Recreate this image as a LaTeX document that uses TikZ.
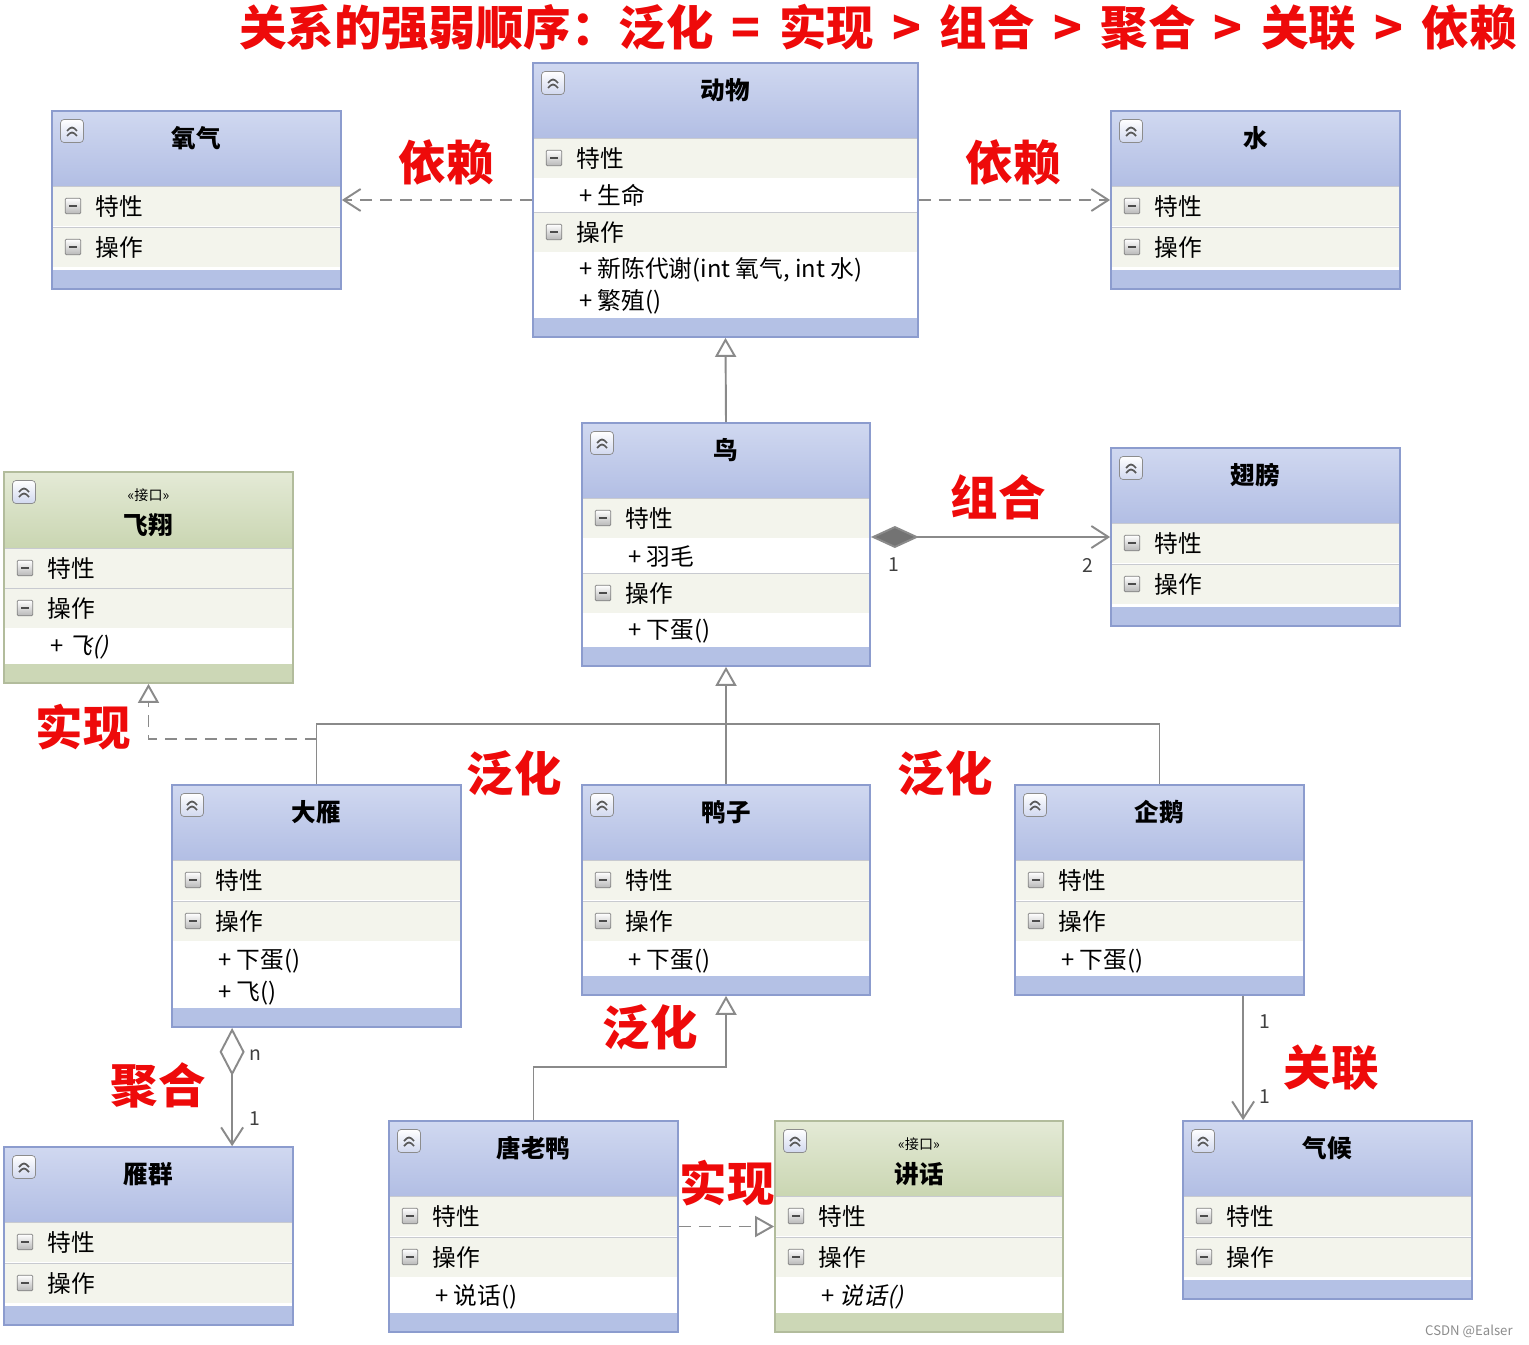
\documentclass[tikz,border=0pt]{standalone}
\usepackage{fontspec}
\setmainfont{Noto Sans CJK SC}
\newfontfamily\slantcjk{Noto Sans CJK SC}[FakeSlant=0.22]
\usetikzlibrary{arrows.meta,calc,fit,positioning}

\definecolor{btop}{RGB}{208,216,240}
\definecolor{bbot}{RGB}{178,190,228}
\definecolor{bedge}{RGB}{140,156,206}
\definecolor{bfoot}{RGB}{180,193,229}
\definecolor{gtop}{RGB}{228,234,214}
\definecolor{gbot}{RGB}{202,214,178}
\definecolor{gedge}{RGB}{178,188,156}
\definecolor{gfoot}{RGB}{204,215,182}
\definecolor{secbg}{RGB}{243,244,236}
\definecolor{sepline}{RGB}{200,202,208}
\definecolor{hl}{RGB}{238,10,10}
\definecolor{conn}{RGB}{138,138,138}

% one class box: name, x1, y1, x2, y2, colour kind, title offset, title, rows
\newcommand{\umlclass}[9]{%
  \fill[white] (#2,#3) rectangle (#4,#5);
  \shade[top color=#6top, bottom color=#6bot] (#2,#3) rectangle (#4,#3+75);
  \fill[#6foot] (#2,#5-19) rectangle (#4,#5);
  \def\bxl{#2}\def\bxr{#4}\def\bxt{#3}%
  #9
  \node[collapse] at (#2+20,#3+20) {};
  \node[classtitle] at ({(#2+#4)/2},#3+#7) {#8};
  \node[draw=#6edge, line width=1pt, inner sep=0pt, fit={(#2,#3) (#4,#5)}] (#1) {};
}
\newcommand{\secrow}[2]{%
  \fill[secbg] (\bxl,#1) rectangle (\bxr,#1+40);
  \draw[sepline] (\bxl,#1) -- (\bxr,#1);
  \node[minusbox] at (\bxl+21,#1+20) {};
  \node[rowtext] at (\bxl+43,#1+20) {#2};
}
\newcommand{\memrow}[2]{\node[rowtext] at (\bxl+46,#1) {#2};}
\newcommand{\stereo}{\node[stereotext] at ({(\bxl+\bxr)/2},\bxt+23) {«接口»};}
\newcommand{\gap}{\hspace{10.5pt}}

\begin{document}
\begin{tikzpicture}[x=0.02cm, y=-0.02cm,
  rowtext/.style={anchor=west, inner sep=0pt, font=\fontsize{13.5}{16}\selectfont},
  classtitle/.style={inner sep=0pt, font=\fontsize{14}{16}\selectfont\bfseries},
  stereotext/.style={inner sep=0pt, font=\fontsize{8}{9}\selectfont},
  rel/.style={text=hl, inner sep=0pt, font=\fontsize{27}{30}\selectfont\bfseries},
  mult/.style={text=black!75, inner sep=0pt, font=\fontsize{11}{12}\selectfont},
  minusbox/.style={draw=black!50, rounded corners=0.6pt, top color=white, bottom color=black!28,
    minimum size=0.31cm, inner sep=0pt,
    path picture={\draw[line width=0.9pt, black!70] ([xshift=0.075cm]path picture bounding box.west)
      -- ([xshift=-0.075cm]path picture bounding box.east);}},
  collapse/.style={draw=black!45, rounded corners=2pt, top color=white, bottom color=bbot!60,
    minimum size=0.46cm, inner sep=0pt,
    path picture={\draw[line width=1pt, black!65]
      ([shift={(-0.1cm,0.0cm)}]path picture bounding box.center) -- ([shift={(0cm,0.1cm)}]path picture bounding box.center)
      -- ([shift={(0.1cm,0.0cm)}]path picture bounding box.center)
      ([shift={(-0.1cm,-0.1cm)}]path picture bounding box.center) -- ([shift={(0cm,0cm)}]path picture bounding box.center)
      -- ([shift={(0.1cm,-0.1cm)}]path picture bounding box.center);}},
  conline/.style={draw=conn, line width=1.1pt},
  dep/.style={conline, dash pattern=on 0.24cm off 0.16cm, -{Straight Barb[length=0.34cm,width=0.44cm]}},
  real/.style={conline, dash pattern=on 0.24cm off 0.16cm, -{Triangle[length=0.38cm,width=0.42cm,fill=white]}},
  gen/.style={conline, -{Triangle[length=0.38cm,width=0.42cm,fill=white]}},
  comp/.style={conline, {Diamond[length=0.96cm,width=0.44cm,fill=black!55]}-{Straight Barb[length=0.34cm,width=0.44cm]}},
  agg/.style={conline, {Diamond[length=0.96cm,width=0.5cm,fill=white]}-{Straight Barb[length=0.34cm,width=0.44cm]}},
  assoc/.style={conline, -{Straight Barb[length=0.34cm,width=0.44cm]}}]

  \useasboundingbox (0,0) rectangle (1529,1345);
  \fill[white] (0,0) rectangle (1529,1345);

  % classes with two empty sections
  \foreach \n/\x/\y/\t in {oxygen/52/111/氧气, water/1111/111/水, wing/1111/448/翅膀,
      flock/4/1147/雁群, climate/1183/1121/气候}{
    \umlclass{\n}{\x}{\y}{\x+289}{\y+178}{b}{27}{\t}{\secrow{\y+75}{特性}\secrow{\y+116}{操作}}
  }

  \umlclass{animal}{533}{63}{918}{337}{b}{27}{动物}{%
    \secrow{138}{特性}\memrow{195}{+ 生命}
    \secrow{212}{操作}\memrow{270}{+ 新陈代谢(int 氧气, int 水)}\memrow{302}{+ 繁殖()}}
  \umlclass{bird}{582}{423}{870}{666}{b}{27}{鸟}{%
    \secrow{498}{特性}\memrow{556}{+ 羽毛}
    \secrow{573}{操作}\memrow{631}{+ 下蛋()}}
  \umlclass{flyer}{4}{472}{293}{683}{g}{53}{飞翔}{%
    \stereo
    \secrow{548}{特性}\secrow{588}{操作}\memrow{647}{+ {\slantcjk 飞()}}}
  \umlclass{goose}{172}{785}{461}{1027}{b}{27}{大雁}{%
    \secrow{860}{特性}\secrow{901}{操作}
    \memrow{961}{+ 下蛋()}\memrow{993}{+ 飞()}}
  \umlclass{duck}{582}{785}{870}{995}{b}{27}{鸭子}{%
    \secrow{860}{特性}\secrow{901}{操作}\memrow{961}{+ 下蛋()}}
  \umlclass{penguin}{1015}{785}{1304}{995}{b}{27}{企鹅}{%
    \secrow{860}{特性}\secrow{901}{操作}\memrow{961}{+ 下蛋()}}
  \umlclass{donald}{389}{1121}{678}{1332}{b}{27}{唐老鸭}{%
    \secrow{1196}{特性}\secrow{1237}{操作}\memrow{1297}{+ 说话()}}
  \umlclass{speak}{775}{1121}{1063}{1332}{g}{53}{讲话}{%
    \stereo
    \secrow{1196}{特性}\secrow{1237}{操作}\memrow{1297}{+ {\slantcjk 说话()}}}

  % relations
  \draw[dep] (animal.west) -- (oxygen.east);
  \draw[dep] (animal.east) -- (water.west);
  \draw[gen] (bird.north) -- (animal.south);
  \draw[comp] (bird.east |- wing.west) --
    node[mult, pos=0.095, yshift=-0.56cm] {1}
    node[mult, pos=0.905, yshift=-0.56cm] {2} (wing.west);
  \coordinate (bus) at (0,724);
  \draw[gen] (duck.north) -- (bird.south);
  \draw[conline] (goose.north) |- (penguin.north |- bus) -- (penguin.north);
  \path (goose.north) ++(0,-45) coordinate (jn);
  \draw[real] (jn) -| (flyer.south);
  \path ($(goose.south west)+(61,0)$) coordinate (ag);
  \draw[agg] (ag) --
    node[mult, pos=0.23, xshift=0.46cm] {n}
    node[mult, pos=0.77, xshift=0.46cm] {1} (ag |- flock.north);
  \draw[gen] (donald.north) -- ++(0,-53) -| (duck.south);
  \draw[real] (donald.east) -- (speak.west);
  \path ($(penguin.south west)+(229,0)$) coordinate (as);
  \draw[assoc] (as) --
    node[mult, pos=0.21, xshift=0.44cm] {1}
    node[mult, pos=0.81, xshift=0.44cm] {1} (as |- climate.north);

  % red notes
  \node[rel] (order) at (878,27) {关系的强弱顺序：泛化\gap{}=\gap{}实现\gap{}>\gap{}组合\gap{}>\gap{}聚合\gap{}>\gap{}关联\gap{}>\gap{}依赖};
  \node[rel] (depl) at (446,162) {依赖};
  \node[rel] (depr) at (1013,162) {依赖};
  \node[rel] (compl) at (998,497) {组合};
  \node[rel] (reall) at (83,727) {实现};
  \node[rel] (genl) at (514,773) {泛化};
  \node[rel] (genr) at (945,773) {泛化};
  \node[rel] (gend) at (650,1027) {泛化};
  \node[rel] (aggl) at (158,1085) {聚合};
  \node[rel] (assl) at (1331,1068) {关联};
  \node[rel] (realr) at (727,1183) {实现};
  \node[anchor=east, inner sep=0pt, text=black!45, font=\fontsize{7.5}{8}\selectfont] (mark) at (1513,1331) {CSDN @Ealser};
\end{tikzpicture}
\end{document}
